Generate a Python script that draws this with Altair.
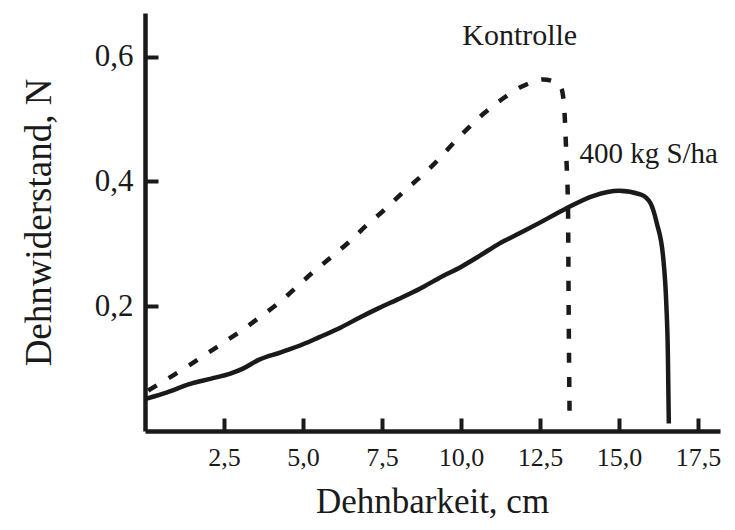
import altair as alt
import pandas as pd

# --- data ---
ctrl_x = [0.1, 0.66, 1.3, 1.9, 2.48, 3.06, 3.64, 4.25, 4.8, 5.32, 5.9, 6.46, 7.01, 7.59,
          8.12, 8.6, 9.17, 9.7, 10.22, 10.75, 11.33, 11.91, 12.3, 12.6, 12.95, 13.18,
          13.28, 13.34, 13.39, 13.41, 13.44]
ctrl_y = [0.065, 0.082, 0.102, 0.122, 0.1415, 0.161, 0.1826, 0.206, 0.2307, 0.2548, 0.279,
          0.303, 0.3297, 0.355, 0.3806, 0.402, 0.429, 0.458, 0.485, 0.51, 0.533, 0.5516,
          0.560, 0.5635, 0.560, 0.549, 0.509, 0.434, 0.354, 0.193, 0.02]

s400_x = [0.05, 0.7, 1.4, 2.1, 2.7, 3.1, 3.6, 4.3, 5.0, 5.5, 6.2, 6.8, 7.4, 8.0, 8.7, 9.3,
          10.0, 10.6, 11.2, 11.9, 12.5, 13.3, 14.2, 15.0, 15.7, 16.0, 16.2, 16.4, 16.5,
          16.55, 16.58]
s400_y = [0.052, 0.062, 0.075, 0.084, 0.092, 0.100, 0.114, 0.126, 0.139, 0.150, 0.166,
          0.182, 0.197, 0.211, 0.228, 0.245, 0.263, 0.281, 0.300, 0.318, 0.334, 0.356,
          0.377, 0.385, 0.379, 0.365, 0.333, 0.279, 0.204, 0.124, 0.012]

x_ticks = [2.5, 5.0, 7.5, 10.0, 12.5, 15.0, 17.5]
y_ticks = [0.2, 0.4, 0.6]

label_ctrl = ["Kontrolle"]
label_ctrl_x = [11.86]
label_ctrl_y = [0.6185]
label_s400 = ["400 kg S/ha"]
label_s400_x = [13.75]
label_s400_y = [0.429]

x_title = "Dehnbarkeit, cm"
y_title = "Dehnwiderstand, N"

# --- layout / style ---
W, H = 575, 418
INK = "#1a1a1a"
FONT = "Liberation Serif"

ctrl_df = pd.DataFrame({"x": ctrl_x, "y": ctrl_y})
s400_df = pd.DataFrame({"x": s400_x, "y": s400_y})
lab1_df = pd.DataFrame({"x": label_ctrl_x, "y": label_ctrl_y, "t": label_ctrl})
lab2_df = pd.DataFrame({"x": label_s400_x, "y": label_s400_y, "t": label_s400})

xs = alt.Scale(domain=[0, 18.2], nice=False, zero=False)
ys = alt.Scale(domain=[0, 0.67], nice=False, zero=False)

fmt = "replace(format(datum.value, '.1f'), '.', ',')"

main_x = alt.Axis(
    values=x_ticks, labelExpr=fmt, ticks=False, tickSize=0, grid=False,
    domainColor=INK, domainWidth=4.5,
    labelFont=FONT, labelFontSize=26, labelColor=INK,
    labelBaseline="alphabetic", labelPadding=34.5, labelFlush=False,
    title=x_title, titleFont=FONT, titleFontSize=35, titleFontWeight="normal",
    titleColor=INK, titleBaseline="alphabetic", titleAlign="center",
    titleX=287, titleY=81.5,
)
main_y = alt.Axis(
    values=y_ticks, labelExpr=fmt, ticks=False, tickSize=0, grid=False,
    domainColor=INK, domainWidth=4.5,
    labelFont=FONT, labelFontSize=31, labelColor=INK,
    labelBaseline="middle", labelPadding=12, labelFlush=False,
    title=y_title, titleFont=FONT, titleFontSize=37, titleFontWeight="normal",
    titleColor=INK, titleBaseline="alphabetic", titleAlign="center",
    titleAngle=270, titleX=-95, titleY=209,
)
# inward-pointing tick axes (placed on the opposite edge and shifted back)
tick_x = alt.Axis(
    orient="top", offset=-H, values=x_ticks, labels=False, domain=False, grid=False,
    ticks=True, tickSize=13, tickWidth=4, tickColor=INK, title=None,
)
tick_y = alt.Axis(
    orient="right", offset=-W, values=y_ticks, labels=False, domain=False, grid=False,
    ticks=True, tickSize=13, tickWidth=4, tickColor=INK, title=None,
)

solid = alt.Chart(s400_df).mark_line(
    color=INK, strokeWidth=4.5, interpolate="monotone"
).encode(
    x=alt.X("x:Q", scale=xs, axis=main_x),
    y=alt.Y("y:Q", scale=ys, axis=main_y),
)

dashed = alt.Chart(ctrl_df).mark_line(
    color=INK, strokeWidth=4.5, strokeDash=[10, 14], strokeCap="butt",
    interpolate="monotone"
).encode(
    x=alt.X("x:Q", scale=xs, axis=None),
    y=alt.Y("y:Q", scale=ys, axis=None),
)

lab1 = alt.Chart(lab1_df).mark_text(
    font=FONT, fontSize=30, color=INK, align="center", baseline="alphabetic"
).encode(
    x=alt.X("x:Q", scale=xs, axis=tick_x),
    y=alt.Y("y:Q", scale=ys, axis=tick_y),
    text="t:N",
)

lab2 = alt.Chart(lab2_df).mark_text(
    font=FONT, fontSize=29, color=INK, align="left", baseline="alphabetic"
).encode(
    x=alt.X("x:Q", scale=xs, axis=None),
    y=alt.Y("y:Q", scale=ys, axis=None),
    text="t:N",
)

chart = alt.layer(solid, dashed, lab1, lab2).resolve_axis(
    x="independent", y="independent"
).properties(
    width=W, height=H,
    padding={"left": 137, "top": 5, "right": 5, "bottom": 90},
    autosize=alt.AutoSizeParams(type="none"),
    background="white",
).configure_view(stroke=None)

chart.save("out.html", embed_options={"renderer": "svg", "actions": False})
